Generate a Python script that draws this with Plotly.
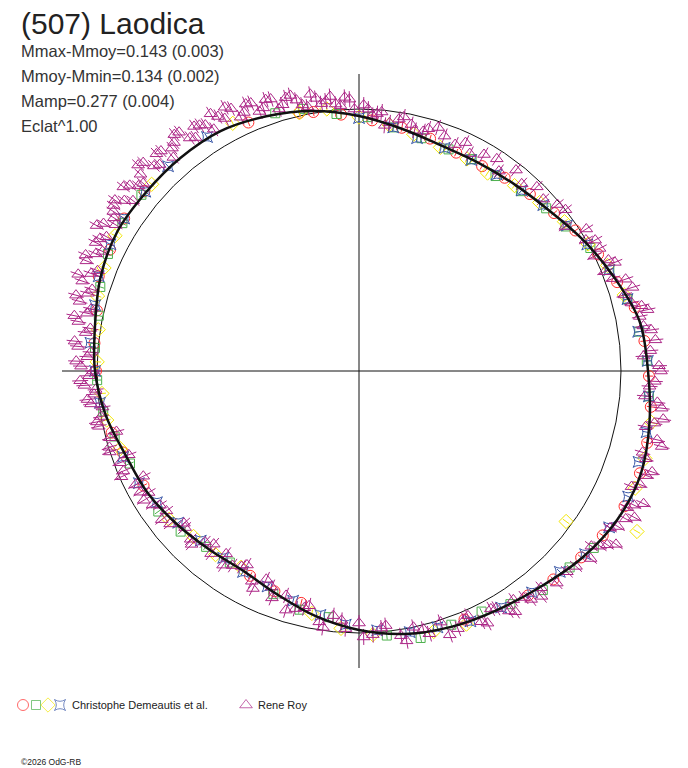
import plotly.graph_objects as go

# ---------------------------------------------------------
# data : phase in degrees (0 = top, clockwise), radius in chart units
# ---------------------------------------------------------
TITLE = "(507) Laodica"
STATS = ["Mmax-Mmoy=0.143 (0.003)", "Mmoy-Mmin=0.134 (0.002)",
         "Mamp=0.277 (0.004)", "Eclat^1.00"]

ref_level = 262   # mean-brightness circle
r_max = 297       # extent of the axes cross
r_view = 325      # radial range kept visible (some points lie past the cross)

fit_phase = list(range(0, 361, 10))
fit_r = [255, 246, 240, 240, 243, 249, 260, 272, 285, 289, 295, 300, 298,
         291, 282, 276, 272, 267, 259, 249, 238, 231, 233, 238, 244, 248,
         257, 264, 268, 275, 279, 278, 278, 277, 271, 264, 255]

circ_phase = [3, 10, 17, 24, 31, 37, 44, 51, 57, 64, 71, 77, 84, 91, 97, 104,
              110, 117, 124, 130, 137, 143, 157, 194, 201, 208, 242, 251, 256,
              270, 276, 283, 290, 296, 303, 310, 336, 347, 350, 356]
circ_r = [251, 247, 243, 239, 239, 242, 246, 251, 258, 266, 273, 283, 287,
          290, 294, 297, 299, 298, 294, 290, 285, 281, 270, 239, 236, 232,
          244, 250, 255, 263, 266, 269, 277, 277, 280, 280, 272, 265, 263, 257]

sq_phase = [2, 8, 15, 22, 28, 35, 42, 49, 55, 62, 68, 75, 82, 88, 95, 127, 133,
            140, 147, 153, 160, 167, 174, 187, 194, 201, 214, 221, 228, 235,
            248, 255, 261, 268, 275, 282, 288, 295, 302, 309, 342, 348, 355]
sq_r = [254, 246, 241, 239, 240, 238, 242, 248, 252, 262, 270, 278, 283, 288,
        291, 294, 288, 286, 278, 270, 270, 274, 266, 248, 246, 239, 231, 233,
        240, 245, 247, 253, 259, 262, 265, 266, 272, 277, 279, 280, 271, 268, 258]

dia_phase = [0, 7, 13, 20, 27, 33, 40, 47, 54, 61, 67, 74, 100, 107, 113, 120,
             126, 157, 164, 177, 184, 191, 211, 218, 225, 232, 252, 259, 265,
             272, 279, 286, 292, 299, 312, 333, 347, 353]
dia_r = [254, 248, 243, 238, 238, 236, 242, 247, 254, 262, 270, 276, 297, 299,
         300, 321, 256, 275, 271, 264, 258, 247, 229, 233, 234, 241, 251, 257,
         258, 262, 264, 272, 275, 279, 279, 278, 265, 264]

star_phase = [0, 8, 14, 21, 28, 35, 42, 48, 55, 61, 68, 75, 82, 88, 95, 102,
              108, 115, 122, 129, 135, 142, 149, 156, 163, 169, 176, 183, 189,
              196, 203, 210, 216, 223, 230, 237, 243, 250, 263, 270, 276, 284,
              290, 297, 303, 310, 317, 327]
star_r = [253, 246, 240, 239, 239, 240, 243, 248, 254, 261, 270, 278, 282, 289,
          291, 294, 294, 297, 295, 291, 284, 281, 276, 274, 268, 266, 260, 254,
          247, 239, 234, 232, 231, 232, 236, 241, 247, 251, 261, 264, 270, 272,
          277, 279, 280, 279, 280, 279]

# Rene Roy, first night
tri_phase_a = [2, 4, 6, 9, 12, 15, 18, 20, 23, 25, 27, 30, 33, 35, 38, 41, 44, 47,
               50, 52, 55, 58, 60, 63, 66, 68, 71, 74, 77, 79, 82, 86, 89, 92, 95,
               97, 100, 103, 106, 109, 112, 116, 118, 121, 124, 126, 129, 132, 134,
               137, 140, 143, 146, 148, 151, 154, 156, 159, 162, 165, 168, 171,
               174, 177, 180, 183, 186, 189, 192, 195, 198, 201, 204, 207, 210,
               213, 216, 219, 222, 225, 228, 231, 234, 237, 240, 243, 246, 249,
               252, 255, 258, 260, 263, 265, 267, 269, 271, 273, 275, 278, 280,
               282, 284, 286, 288, 290, 292, 294, 296, 298, 300, 302, 304, 306,
               308, 310, 312, 314, 316, 318, 320, 322, 324, 326, 328, 330, 332,
               334, 336, 338, 340, 342, 344, 346, 348, 350, 352, 354, 356, 358]
tri_r_a = [262, 258, 247, 255, 252, 248, 256, 250, 246, 252, 244, 250, 253, 244,
           255, 248, 256, 252, 259, 262, 252, 268, 262, 270, 273, 265, 282, 276,
           290, 286, 295, 292, 300, 296, 287, 305, 300, 306, 295, 310, 303, 306,
           312, 302, 310, 298, 298, 292, 289, 290, 283, 286, 276, 283, 272, 279,
           268, 276, 264, 272, 262, 268, 256, 264, 252, 258, 246, 254, 240, 246,
           236, 243, 228, 236, 224, 232, 226, 235, 230, 238, 234, 243, 238, 246,
           243, 251, 260, 256, 262, 258, 266, 262, 270, 266, 275, 270, 278, 272,
           282, 276, 285, 278, 288, 282, 291, 285, 294, 288, 293, 286, 295, 289,
           296, 290, 299, 288, 294, 300, 287, 296, 291, 300, 288, 295, 290, 297,
           286, 292, 283, 289, 280, 286, 277, 284, 272, 281, 270, 276, 266, 272]

# Rene Roy, later nights
tri_phase_b = [291, 293, 295, 297, 299, 301, 303, 305, 307, 309, 311, 313, 315,
               317, 319, 321, 323, 325, 327, 329, 331, 333, 335, 337, 339, 341,
               343, 345, 347, 349, 351, 353, 355, 357, 359, 1, 3, 5, 7, 10, 13, 16,
               61, 64, 67, 70, 73, 76, 78, 81, 84, 87, 90, 93, 96, 99, 101, 104,
               107, 110, 113, 115, 117, 119, 122, 125, 127,
               241, 244, 247, 250, 253, 256, 259, 262, 264, 266, 268, 270, 272,
               274, 276, 279, 281, 283, 285, 287, 289,
               141, 144, 147, 150, 153, 157, 161, 166, 170, 175, 179, 184, 188,
               193, 197, 202, 206, 211, 215, 220, 224, 229, 233, 236, 239]
tri_r_b = [280, 297, 283, 291, 300, 284, 293, 298, 283, 295, 286, 302, 290,
           297, 283, 294, 299, 285, 293, 282, 291, 296, 280, 290, 278, 287,
           274, 283, 278, 269, 276, 272, 268, 274, 262, 266, 256, 260, 250, 258, 247, 252,
           270, 262, 278, 270, 286, 281, 295, 288, 298, 285, 302, 291, 300, 308, 292, 312,
           300, 306, 296, 314, 301, 305, 296, 303, 291,
           250, 240, 256, 245, 261, 250, 267, 259, 273, 264, 279, 266, 283,
           269, 286, 272, 290, 275, 293, 279, 297,
           290, 280, 287, 274, 283, 270, 279, 266, 274, 258, 266, 250, 259,
           243, 250, 233, 242, 228, 237, 226, 241, 232, 247, 240, 251]

err_demeautis = 4
err_roy = 8

RED, GREEN, YELLOW, BLUE, MAGENTA = "#ff2a2a", "#4cb04c", "#f2e600", "#3a58a8", "#ac2687"

# the page adds an 8 px body margin: the figure is 680x760, placed at (8, 8)
W, H, OFF = 680, 760, 8
CX, CY = 359, 371          # centre of the polar plot in window pixels


def px_x(x):
    return (x - OFF) / W


def px_y(y):
    return 1 - (y - OFF) / H


def err_bars(phase, r, e):
    th, rr = [], []
    for t, v in zip(phase, r):
        th += [t, t, None]
        rr += [v - e, v + e, None]
    return th, rr


tri_phase = tri_phase_a + tri_phase_b
tri_r = tri_r_a + tri_r_b

series = [
    (circ_phase, circ_r, "circle-open", 11, RED, err_demeautis),
    (sq_phase, sq_r, "square-open", 9, GREEN, err_demeautis),
    (dia_phase, dia_r, "diamond-open", 11, YELLOW, err_demeautis),
    (star_phase, star_r, "star-square-open", 10, BLUE, err_demeautis),
    (tri_phase, tri_r, "triangle-up-open", 11, MAGENTA, err_roy),
]

fig = go.Figure()

# axes cross
for a in (0, 90):
    fig.add_trace(go.Scatterpolar(theta=[a, a + 180], r=[r_max, r_max], mode="lines",
                                  line=dict(color="#111111", width=1), hoverinfo="skip"))

for ph, r, sym, size, col, e in series:
    th, rr = err_bars(ph, r, e)
    fig.add_trace(go.Scatterpolar(theta=th, r=rr, mode="lines",
                                  line=dict(color=col, width=1), hoverinfo="skip"))
    fig.add_trace(go.Scatterpolar(theta=ph, r=r, mode="markers",
                                  marker=dict(symbol=sym, size=size, color=col,
                                              line=dict(color=col, width=1))))

# fitted lightcurve
fig.add_trace(go.Scatterpolar(theta=fit_phase, r=fit_r, mode="lines",
                              line=dict(color="#111111", width=2.5, shape="spline")))

# legend glyphs on a hidden overlay measured in window pixels
leg_x = [23, 36, 48, 60, 246]
leg_sym = ["circle-open", "square-open", "diamond-open", "star-square-open", "triangle-up-open"]
leg_col = [RED, GREEN, YELLOW, BLUE, MAGENTA]
fig.add_trace(go.Scatter(x=leg_x, y=[705] * 5, mode="markers",
                         marker=dict(symbol=leg_sym, size=[11, 9, 11, 10, 11], color=leg_col,
                                     line=dict(color=leg_col, width=1))))

fig.update_layout(
    width=W, height=H,
    margin=dict(l=0, r=0, t=0, b=0),
    paper_bgcolor="white", plot_bgcolor="white",
    showlegend=False,
    xaxis=dict(range=[OFF, OFF + W], visible=False, domain=[0, 1], fixedrange=True),
    yaxis=dict(range=[OFF + H, OFF], visible=False, domain=[0, 1], fixedrange=True),
    polar=dict(
        domain=dict(x=[px_x(CX - r_view), px_x(CX + r_view)],
                    y=[px_y(CY + r_view), px_y(CY - r_view)]),
        bgcolor="rgba(0,0,0,0)",
        radialaxis=dict(range=[0, r_view], tickvals=[ref_level], showticklabels=False,
                        ticks="", showline=False, showgrid=True,
                        gridcolor="#111111", gridwidth=1),
        angularaxis=dict(rotation=90, direction="clockwise", showticklabels=False,
                         ticks="", showline=False, showgrid=False),
    ),
)

ann = [dict(text=TITLE, x=20, y=23, size=30, color="#222222")]
for i, s in enumerate(STATS):
    ann.append(dict(text=s, x=20, y=51 + 25 * i, size=16.5, color="#333333"))
ann.append(dict(text="Christophe Demeautis et al.", x=71, y=705, size=11, color="#222222"))
ann.append(dict(text="Rene Roy", x=257, y=705, size=11, color="#222222"))
ann.append(dict(text="©2026 OdG-RB", x=20, y=762, size=8.5, color="#222222"))

fig.update_layout(annotations=[
    dict(text=a["text"], x=px_x(a["x"]), y=px_y(a["y"]), xref="paper", yref="paper",
         xanchor="left", yanchor="middle", showarrow=False, borderpad=0,
         font=dict(family="Liberation Sans, Arial, sans-serif", size=a["size"], color=a["color"]))
    for a in ann
])

fig.write_html("out.html")
